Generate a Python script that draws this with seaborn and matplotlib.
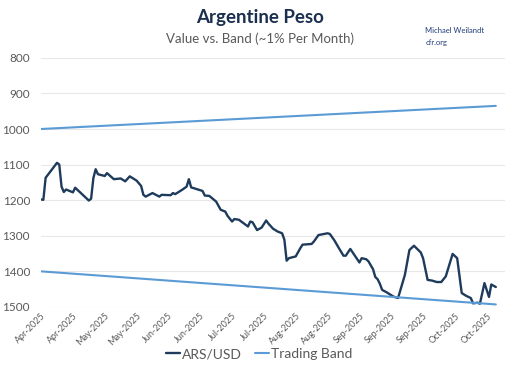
import pandas as pd
import matplotlib
matplotlib.use('Agg')
import matplotlib.pyplot as plt
import matplotlib.dates as mdates
import seaborn as sns

# ARS/USD daily rate
rate_dates = ['2025-04-14', '2025-04-15', '2025-04-16', '2025-04-21', '2025-04-22', '2025-04-23',
              '2025-04-24', '2025-04-25', '2025-04-28', '2025-04-29', '2025-05-05', '2025-05-06',
              '2025-05-07', '2025-05-08', '2025-05-09', '2025-05-12', '2025-05-13', '2025-05-16',
              '2025-05-19', '2025-05-21', '2025-05-23', '2025-05-26', '2025-05-28', '2025-05-29',
              '2025-05-30', '2025-06-02', '2025-06-05', '2025-06-06', '2025-06-10', '2025-06-11',
              '2025-06-12', '2025-06-15', '2025-06-17', '2025-06-18', '2025-06-19', '2025-06-24',
              '2025-06-25', '2025-06-27', '2025-06-30', '2025-07-02', '2025-07-04', '2025-07-05',
              '2025-07-07', '2025-07-08', '2025-07-10', '2025-07-14', '2025-07-15', '2025-07-16',
              '2025-07-18', '2025-07-20', '2025-07-22', '2025-07-23', '2025-07-25', '2025-07-27',
              '2025-07-29', '2025-07-30', '2025-07-31', '2025-08-01', '2025-08-04', '2025-08-06',
              '2025-08-07', '2025-08-11', '2025-08-12', '2025-08-14', '2025-08-18', '2025-08-19',
              '2025-08-21', '2025-08-23', '2025-08-25', '2025-08-26', '2025-08-28', '2025-08-30',
              '2025-09-01', '2025-09-02', '2025-09-04', '2025-09-05', '2025-09-07', '2025-09-08',
              '2025-09-09', '2025-09-10', '2025-09-11', '2025-09-13', '2025-09-16', '2025-09-18',
              '2025-09-21', '2025-09-23', '2025-09-25', '2025-09-28', '2025-09-29', '2025-10-01',
              '2025-10-03', '2025-10-05', '2025-10-07', '2025-10-09', '2025-10-12', '2025-10-14',
              '2025-10-16', '2025-10-18', '2025-10-20', '2025-10-21', '2025-10-23', '2025-10-24',
              '2025-10-26', '2025-10-28', '2025-10-29', '2025-10-31']
rate_values = [1198, 1199, 1137, 1095, 1100, 1162,
               1177, 1170, 1178, 1165, 1201, 1196,
               1138, 1113, 1127, 1132, 1124, 1141,
               1139, 1147, 1133, 1145, 1160, 1185,
               1190, 1180, 1190, 1185, 1186, 1180,
               1183, 1171, 1162, 1141, 1164, 1174,
               1187, 1188, 1204, 1227, 1232, 1244,
               1260, 1253, 1255, 1274, 1260, 1262,
               1284, 1277, 1257, 1266, 1280, 1288,
               1293, 1311, 1370, 1363, 1358, 1335,
               1325, 1323, 1316, 1298, 1293, 1295,
               1313, 1335, 1356, 1356, 1337, 1356,
               1375, 1363, 1366, 1372, 1394, 1416,
               1422, 1435, 1452, 1459, 1471, 1475,
               1410, 1340, 1328, 1347, 1363, 1424,
               1426, 1430, 1430, 1414, 1351, 1363,
               1461, 1469, 1475, 1490, 1488, 1491,
               1433, 1472, 1437, 1444]

# trading band edges (start and end of the period)
band_dates = ['2025-04-14', '2025-10-31']
band_upper = [1000, 935]
band_lower = [1400, 1493]

tick_dates = pd.date_range('2025-04-14', periods=15, freq='14D')

navy = '#1f3b5c'
band_blue = '#5b9bd5'
grey = '#595959'

sns.set_style('white')
plt.rcParams['font.family'] = ['Lato', 'DejaVu Sans']

rate = pd.DataFrame({'date': pd.to_datetime(rate_dates), 'value': rate_values})
band = pd.DataFrame({'date': pd.to_datetime(band_dates), 'upper': band_upper, 'lower': band_lower})

fig = plt.figure(figsize=(5.2, 3.78), dpi=100)
ax = fig.add_axes([0.079, 0.188, 0.892, 0.659])

sns.lineplot(data=rate, x='date', y='value', ax=ax, color=navy, linewidth=1.7, label='ARS/USD')
sns.lineplot(data=band, x='date', y='upper', ax=ax, color=band_blue, linewidth=1.5, label='Trading Band')
sns.lineplot(data=band, x='date', y='lower', ax=ax, color=band_blue, linewidth=1.5, label='_nolegend_')

ax.set_ylim(1500, 800)
ax.set_yticks(range(800, 1501, 100))
ax.set_xlim(pd.Timestamp('2025-04-14'), pd.Timestamp('2025-11-04'))
ax.set_xticks(tick_dates)
ax.xaxis.set_major_formatter(mdates.DateFormatter('%b-%Y'))
plt.setp(ax.get_xticklabels(), rotation=45, ha='right', rotation_mode='anchor')
ax.tick_params(axis='x', labelsize=6.5, colors=grey, length=0, pad=3)
ax.tick_params(axis='y', labelsize=8.5, colors=grey, length=0, pad=8)
ax.grid(axis='y', color='#e8e8e8', linewidth=0.8)
ax.set_xlabel('')
ax.set_ylabel('')
for s in ax.spines.values():
    s.set_visible(False)

ax.legend(loc='center', bbox_to_anchor=(0.47, -0.19), ncol=2, frameon=False,
          fontsize=10, handlelength=1.0, handletextpad=0.1, columnspacing=1.0,
          labelcolor=grey)

fig.text(0.5, 0.955, 'Argentine Peso', ha='center', va='center', fontsize=13.5,
         fontweight='bold', color='#1b2f4e')
fig.text(0.5, 0.898, 'Value vs. Band (~1% Per Month)', ha='center', va='center',
         fontsize=9.5, color=grey)
fig.text(0.818, 0.918, 'Michael Weilandt', ha='left', va='center', fontsize=5.5, color='#1f3b7a')
fig.text(0.818, 0.888, 'cfr.org', ha='left', va='center', fontsize=5.5, color='#1f3b7a')

plt.savefig('out.png', dpi=100)
